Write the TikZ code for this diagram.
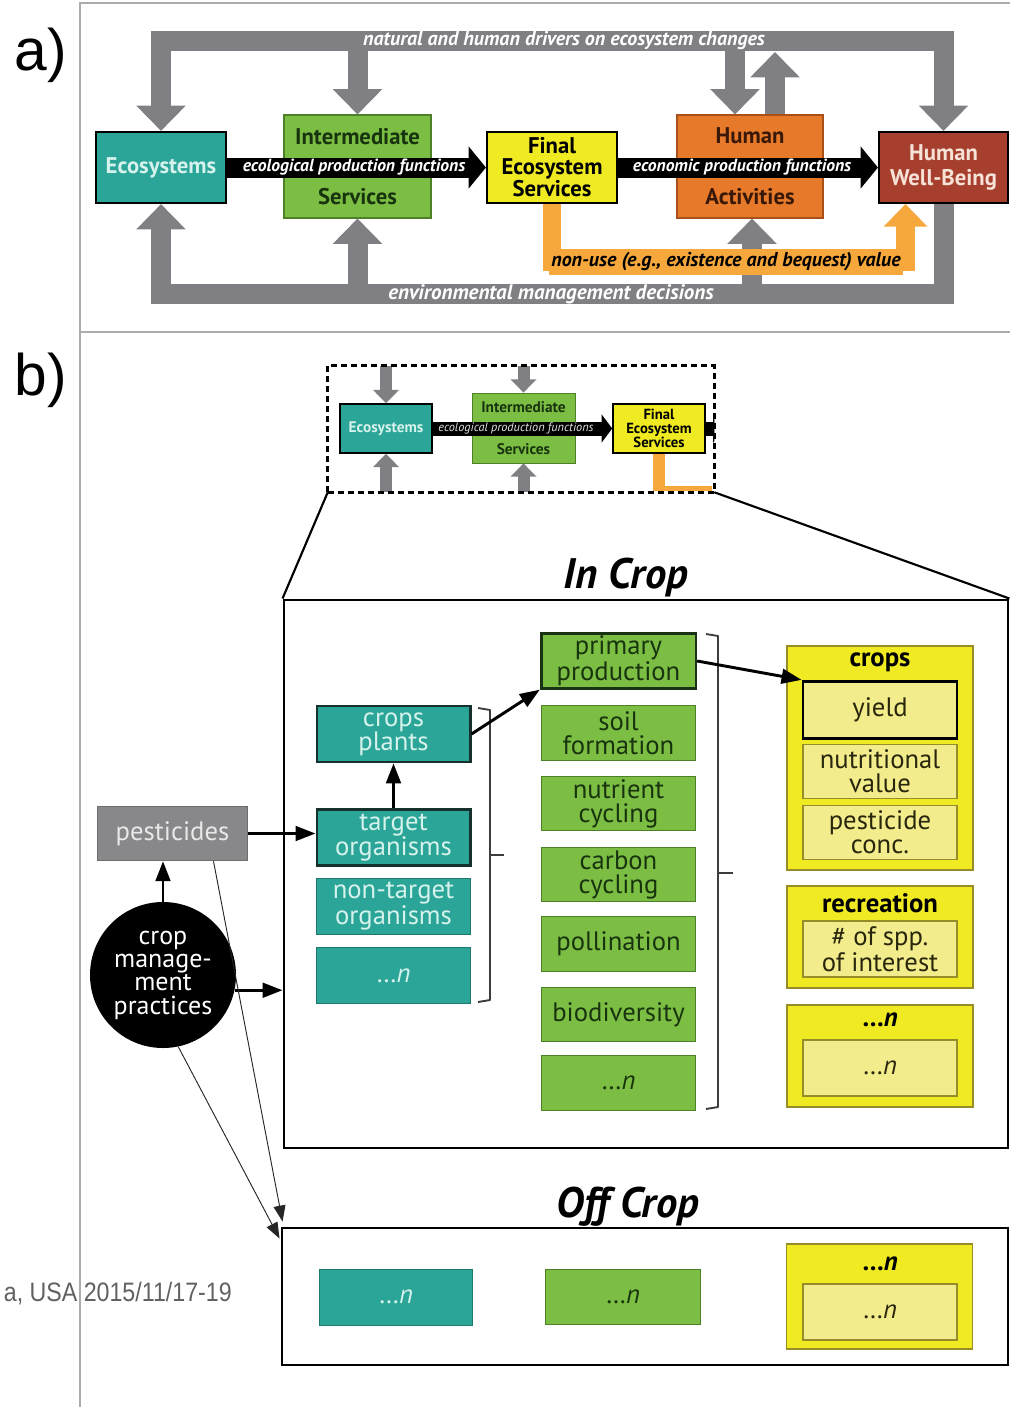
\documentclass[tikz,border=0pt]{standalone}
\usepackage{fontspec}
\setmainfont{PT Sans}
\newfontfamily\labfont{Liberation Sans}
\usetikzlibrary{arrows.meta,calc}
\definecolor{cTeal}{RGB}{43,165,152}
\definecolor{cTealTxt}{RGB}{214,242,236}
\definecolor{cTealDk}{RGB}{22,48,44}
\definecolor{cTealBd}{RGB}{30,120,110}
\definecolor{cGreen}{RGB}{124,190,68}
\definecolor{cGreenDk}{RGB}{78,128,40}
\definecolor{cGreenTxt}{RGB}{24,52,14}
\definecolor{cGreenHi}{RGB}{26,50,20}
\definecolor{cYel}{RGB}{240,234,34}
\definecolor{cYelLt}{RGB}{243,236,140}
\definecolor{cOlive}{RGB}{150,140,40}
\definecolor{cYelTxt}{RGB}{40,38,12}
\definecolor{cOrange}{RGB}{230,122,42}
\definecolor{cOrangeBd}{RGB}{170,80,25}
\definecolor{cOrangeTxt}{RGB}{58,24,8}
\definecolor{cBrown}{RGB}{166,63,46}
\definecolor{cBrownTxt}{RGB}{246,226,214}
\definecolor{cGray}{RGB}{128,128,132}
\definecolor{cOArrow}{RGB}{246,168,60}
\definecolor{cPest}{RGB}{136,136,139}
\definecolor{cPestTxt}{RGB}{232,232,232}
\definecolor{cFrame}{RGB}{172,172,172}
\definecolor{cBrk}{RGB}{60,60,60}
\newcommand\bxfont{\fontsize{20}{18}\selectfont}
\begin{document}
\begin{tikzpicture}[x=0.75pt,y=-0.75pt,
  abox/.style={inner sep=0pt, align=center, font=\fontsize{17}{15.5}\selectfont\bfseries},
  gbar/.style={draw=cGray, line width=15pt, line join=miter, >={Triangle[width=36pt,length=19pt]}},
  obar/.style={draw=cOArrow, line width=14pt, line join=miter, >={Triangle[width=32pt,length=17pt]}},
  kbar/.style={draw=black, line width=15pt, >={Triangle[width=31pt,length=13pt]}},
  barlab/.style={font=\fontsize{15}{15}\selectfont\bfseries\itshape, text=white, inner sep=0pt},
  kbarlab/.style={font=\fontsize{13.2}{13}\selectfont\bfseries\itshape, text=white, inner sep=0pt},
  sgbar/.style={draw=cGray, line width=9pt, >={Triangle[width=19pt,length=10pt]}},
  skbar/.style={draw=black, line width=10.5pt, >={Triangle[width=21pt,length=8pt]}},
  tbox/.style={fill=cTeal, draw=cTealBd, line width=0.6pt, text=cTealTxt, minimum width=115pt, minimum height=42pt, inner sep=0pt, align=center, font=\bxfont},
  gbox/.style={fill=cGreen, draw=cGreenDk, line width=0.6pt, text=cGreenTxt, minimum width=116pt, minimum height=41pt, inner sep=0pt, align=center, font=\bxfont},
  ybox/.style={fill=cYelLt, draw=cOlive, line width=0.8pt, text=cYelTxt, minimum width=115.5pt, minimum height=41pt, inner sep=0pt, align=center, font=\bxfont},
  ygrp/.style={fill=cYel, draw=cOlive, line width=0.8pt, minimum width=139.5pt, inner sep=0pt},
  yhead/.style={font=\fontsize{20}{20}\selectfont\bfseries, text=black, inner sep=0pt},
  barrow/.style={draw=black, line width=2.2pt, -{Triangle[width=11pt,length=15pt]}},
  tarrow/.style={draw=black!85, line width=0.7pt, -{Triangle[width=9pt,length=12pt]}},
  brk/.style={draw=cBrk, line width=1.4pt, line join=round},
  ttl/.style={font=\fontsize{32}{32}\selectfont\bfseries\itshape, text=black, inner sep=0pt}
]
\useasboundingbox (0,0) rectangle (1010,1407);
% frame
\draw[cFrame, line width=1.2pt] (80,1407) -- (80,3) -- (1010,3);
\draw[cFrame, line width=1.2pt] (80,332) -- (1010,332);
\node[font=\labfont\fontsize{44}{44}\selectfont] (la) at (41,55) {a)};
\node[font=\labfont\fontsize{44}{44}\selectfont] (lb) at (41,380) {b)};

% ---------- panel a ----------
\node[abox, fill=cTeal, draw=black, line width=1.6pt, text=cTealTxt, minimum width=97.5pt, minimum height=53.25pt] (eco) at (161,167.5) {Ecosystems};
\node[abox, fill=cGreen, draw=cGreenDk, line width=0.8pt, text=cGreenTxt, minimum width=110.25pt, minimum height=77.25pt] (inter) at (357.5,166.5) {Intermediate\\[30pt]Services};
\node[abox, fill=cYel, draw=black, line width=1.6pt, text=black, minimum width=97.5pt, minimum height=53.25pt] (fes) at (552,167.5) {Final\\Ecosystem\\Services};
\node[abox, fill=cOrange, draw=cOrangeBd, line width=0.8pt, text=cOrangeTxt, minimum width=109.5pt, minimum height=77.25pt] (hact) at (750,166.5) {Human\\[30pt]Activities};
\node[abox, fill=cBrown, draw=black, line width=1.6pt, text=cBrownTxt, minimum width=96.75pt, minimum height=53.25pt] (hwb) at (943.5,167.5) {Human\\[3pt]Well-Being};

\coordinate (ty) at (0,41);
\coordinate (by) at (0,294);
\coordinate (oy) at (0,262);
\coordinate (hd) at ($(hact.north)+(-15,0)$);
\coordinate (hu) at ($(hact.north)+(25,0)$);
\coordinate (hb) at ($(hact.south)+(2,0)$);
\coordinate (ov) at ($(hwb.south)+(-38,0)$);

\draw[gbar,<->] (eco.north) -- (eco.north |- ty) -- (hwb.north |- ty) -- (hwb.north);
\draw[gbar,->] (inter.north |- ty) -- (inter.north);
\draw[gbar,->] (hd |- ty) -- (hd);
\draw[gbar,->] (hu) -- ($(hu |- ty)+(0,11)$);
\draw[gbar,->] (hwb.south) -- (hwb.south |- by) -- (eco.south |- by) -- (eco.south);
\draw[gbar,->] (inter.south |- by) -- (inter.south);
\draw[gbar,->] (hb |- by) -- (hb);
\draw[obar,->] (fes.south) -- (fes.south |- oy) -- (ov |- oy) -- (ov);

\draw[kbar,->] (eco.east) -- (fes.west);
\draw[kbar,->] (fes.east) -- (hwb.west);

\node[barlab] (l1) at (564,41) {natural and human drivers on ecosystem changes};
\node[barlab, font=\fontsize{15.8}{16}\selectfont\bfseries\itshape] (l2) at (551,294) {environmental management decisions};
\node[barlab, text=black, fill=cOArrow, inner ysep=3pt, inner xsep=2pt] (l3) at (726,262) {non-use (e.g., existence and bequest) value};
\node[kbarlab] (l4) at (354,167) {ecological production functions};
\node[kbarlab] (l5) at (742,167) {economic production functions};

% ---------- panel b: small copy ----------
\node[minimum width=289.5pt, minimum height=94.5pt, inner sep=0pt] (dbox) at (521,429) {};
\node[abox, fill=cTeal, draw=black, line width=1.2pt, text=cTealTxt, minimum width=69pt, minimum height=36.75pt, font=\fontsize{11.5}{11}\selectfont\bfseries] (seco) at (386,428.5) {Ecosystems};
\node[abox, fill=cGreen, draw=cGreenDk, line width=0.6pt, text=cGreenTxt, minimum width=77.25pt, minimum height=52.5pt, font=\fontsize{11.5}{11}\selectfont\bfseries] (sinter) at (523.5,428) {Intermediate\\[20pt]Services};
\node[abox, fill=cYel, draw=black, line width=1.2pt, text=black, minimum width=69pt, minimum height=36.75pt, font=\fontsize{11}{10.5}\selectfont\bfseries] (sfes) at (659,428.5) {Final\\Ecosystem\\Services};

\draw[sgbar,->] (seco.north |- dbox.north) -- (seco.north);
\draw[sgbar,->] (seco.south |- dbox.south) -- (seco.south);
\draw[sgbar,->] (sinter.north |- dbox.north) -- (sinter.north);
\draw[sgbar,->] (sinter.south |- dbox.south) -- (sinter.south);
\draw[draw=cOArrow, line width=9pt] (sfes.south) -- ($(sfes.south |- dbox.south)+(0,-2)$);
\draw[draw=cOArrow, line width=4pt] ($(sfes.south |- dbox.south)+(-6,-4)$) -- ($(dbox.south east)+(-2,-4)$);
\draw[skbar,->] (seco.east) -- (sfes.west);
\node[font=\fontsize{9.2}{9}\selectfont\itshape, text=white!90!black, inner sep=0pt] (sl) at (516,428) {ecological production functions};
\begin{scope}
\clip (dbox.south west) rectangle (dbox.north east);
\draw[skbar,->] (sfes.east) -- ++(18,0);
\end{scope}
\draw[black, line width=2.2pt, dash pattern=on 4.5pt off 3pt] (dbox.south west) rectangle (dbox.north east);

% ---------- In Crop ----------
\node[draw=black, line width=2.2pt, minimum width=543pt, minimum height=411pt, inner sep=0pt] (incrop) at (646,874) {};
\draw[black, line width=1.6pt] (dbox.south west) -- (incrop.north west);
\draw[black, line width=1.6pt] (dbox.south east) -- (incrop.north east);
\node[ttl] (tin) at (626,578) {In Crop};

% teal column
\node[tbox, draw=cTealDk, line width=2pt] (cp) at (393.5,734) {crops\\plants};
\node[tbox, draw=cTealDk, line width=2pt] (to) at (393.5,837.5) {target\\organisms};
\node[tbox] (nto) at (393.5,906) {non-target\\organisms};
\node[tbox] (tn) at (393.5,975.5) {…\textit{n}};
% green column
\node[gbox, draw=cGreenHi, line width=2pt] (pp) at (618.5,661) {primary\\production};
\node[gbox] (sf) at (618.5,733) {soil\\formation};
\node[gbox] (nc) at (618.5,803.5) {nutrient\\cycling};
\node[gbox] (cc) at (618.5,874.5) {carbon\\cycling};
\node[gbox] (pol) at (618.5,944) {pollination};
\node[gbox] (bio) at (618.5,1014.5) {biodiversity};
\node[gbox] (gn) at (618.5,1083) {…\textit{n}};
% yellow column
\node[ygrp, minimum height=168pt] (gcrops) at (880,758) {};
\node[yhead] (hcrops) at (880,662) {crops};
\node[ybox, draw=black, line width=2.2pt, minimum height=43pt] (yield) at (880,710) {yield};
\node[ybox] (nv) at (880,771.5) {nutritional\\value};
\node[ybox] (pc) at (880,832.5) {pesticide\\conc.};
\node[ygrp, minimum height=76.5pt] (grec) at (880,937) {};
\node[yhead] (hrec) at (880,903) {recreation};
\node[ybox, minimum height=42pt] (spp) at (880,949) {\# of spp.\\of interest};
\node[ygrp, minimum height=76.5pt] (gyn) at (880,1056) {};
\node[yhead] (hyn) at (880,1020) {…\textit{n}};
\node[ybox, minimum height=42pt] (yn) at (880,1068) {…\textit{n}};

% brackets
\draw[brk] (478,708) -- (490,710) -- (490,1000) -- (478,1002);
\draw[brk] (490,855) -- (504,855);
\draw[brk] (706,634) -- (718,636) -- (718,1107) -- (706,1109);
\draw[brk] (718,873) -- (733,873);

% left side
\node[fill=cPest, draw=cPest!80!black, line width=0.6pt, text=cPestTxt, minimum width=113pt, minimum height=41pt, inner sep=0pt, font=\bxfont] (pest) at (172.5,833.5) {pesticides};
\node[circle, fill=black, text=white, minimum size=109.5pt, inner sep=0pt, align=center, font=\fontsize{19.5}{17.5}\selectfont] (cmp) at (163,975) {crop\\manage-\\ment\\practices};

% arrows
\draw[barrow] (to.north) -- (cp.south);
\draw[barrow] (cp.east) -- (pp.south west);
\draw[barrow] (pp.east) -- (yield.north west);
\draw[barrow] (cmp.north) -- (cmp.north |- pest.south);
\draw[barrow] (pest.east) -- (pest.east -| to.west);
\draw[barrow] (cmp.-12) -- (cmp.-12 -| incrop.west);

% ---------- Off Crop ----------
\node[draw=black, line width=2.2pt, minimum width=544.5pt, minimum height=102.75pt, inner sep=0pt] (offcrop) at (645,1296.5) {};
\node[ttl] (toff) at (628,1207) {Off Crop};
\node[tbox] (otn) at (396,1297) {…\textit{n}};
\node[gbox] (ogn) at (623,1297) {…\textit{n}};
\node[ygrp, minimum height=78.75pt] (ogrp) at (879.5,1296.5) {};
\node[yhead] (hon) at (880,1264) {…\textit{n}};
\node[ybox, minimum height=42pt] (oyn) at (880,1312) {…\textit{n}};

\draw[tarrow] ($(pest.south)+(41,0)$) -- ($(offcrop.north west)+(2,-5)$);
\draw[tarrow] (cmp.-78) -- ($(offcrop.north west)+(-1,12)$);

% caption text at the left edge
\node[anchor=east, text=black!62, inner sep=0pt, font=\labfont\fontsize{20}{20}\selectfont] (cap) at (232,1294) {\scalebox{0.87}[1]{a, USA 2015/11/17-19}};
\end{tikzpicture}
\end{document}
